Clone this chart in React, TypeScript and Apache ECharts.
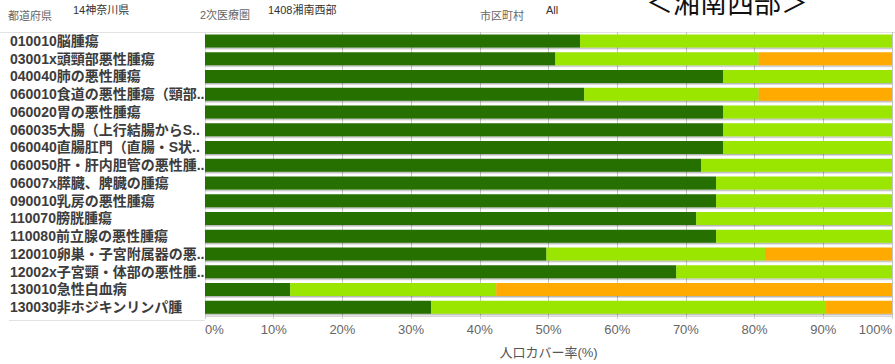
import React, { useEffect, useRef } from "react";
import * as echarts from "echarts";

// DPC disease categories (row labels, top to bottom)
const categories = [
  "010010脳腫瘍",
  "03001x頭頸部悪性腫瘍",
  "040040肺の悪性腫瘍",
  "060010食道の悪性腫瘍（頸部..",
  "060020胃の悪性腫瘍",
  "060035大腸（上行結腸からS..",
  "060040直腸肛門（直腸・S状..",
  "060050肝・肝内胆管の悪性腫..",
  "06007x膵臓、脾臓の腫瘍",
  "090010乳房の悪性腫瘍",
  "110070膀胱腫瘍",
  "110080前立腺の悪性腫瘍",
  "120010卵巣・子宮附属器の悪..",
  "12002x子宮頸・体部の悪性腫..",
  "130010急性白血病",
  "130030非ホジキンリンパ腫",
];

// Population coverage (%) by access band, stacked to 100
const coverNear = [54.6, 51.0, 75.4, 55.2, 75.4, 75.4, 75.4, 72.2, 74.4, 74.4, 71.5, 74.4, 49.7, 68.6, 12.4, 32.9];
const coverMid = [45.4, 29.6, 24.6, 25.4, 24.6, 24.6, 24.6, 27.8, 25.6, 25.6, 28.5, 25.6, 31.8, 31.4, 30.0, 57.5];
const coverFar = [0, 19.4, 0, 19.4, 0, 0, 0, 0, 0, 0, 0, 0, 18.5, 0, 57.6, 9.6];

const xTicks = [0, 10, 20, 30, 40, 50, 60, 70, 80, 90, 100];

const JP = '"Noto Sans CJK JP", "Noto Sans", sans-serif';
const MIXED = '"Liberation Sans", "Noto Sans CJK JP", sans-serif';
const LATIN = '"Liberation Sans", Arial, sans-serif';

export default function App() {
  const ref = useRef<HTMLDivElement>(null);

  useEffect(() => {
    if (!ref.current) return;
    const chart = echarts.init(ref.current, undefined, { renderer: "svg" });

    const barStyle = (color: string) => ({
      color,
      shadowColor: "rgba(0,0,0,0.28)",
      shadowBlur: 1,
      shadowOffsetY: 1.5,
    });

    chart.setOption({
      animation: false,
      backgroundColor: "#ffffff",
      grid: { left: 205, right: 0, top: 32, bottom: 44, containLabel: false },
      xAxis: {
        type: "value",
        min: xTicks[0],
        max: xTicks[xTicks.length - 1],
        interval: 10,
        name: "人口カバー率(%)",
        nameLocation: "middle",
        nameGap: 30,
        nameTextStyle: { fontFamily: MIXED, fontSize: 13, color: "#555" },
        axisLine: { show: true, lineStyle: { color: "#d6d6d6" } },
        axisTick: { show: true, length: 3, lineStyle: { color: "#cfcfcf" } },
        axisLabel: {
          formatter: "{value}%",
          fontFamily: LATIN,
          fontSize: 13,
          color: "#666",
          margin: 7,
          alignMinLabel: "left",
          alignMaxLabel: "right",
        },
        splitLine: { show: true, lineStyle: { color: "#c4c4c4", width: 1 } },
      },
      yAxis: {
        type: "category",
        data: categories,
        inverse: true,
        axisLine: { show: true, lineStyle: { color: "#dcdcdc" } },
        axisTick: { show: false },
        axisLabel: {
          interval: 0,
          hideOverlap: false,
          align: "left",
          margin: 195,
          fontFamily: MIXED,
          fontWeight: "bold",
          fontSize: 14,
          color: "#3c3c3c",
        },
      },
      series: [
        { name: "near", type: "bar", stack: "cov", data: coverNear, barWidth: 13, itemStyle: barStyle("#277000") },
        { name: "mid", type: "bar", stack: "cov", data: coverMid, barWidth: 13, itemStyle: barStyle("#9ae600") },
        { name: "far", type: "bar", stack: "cov", data: coverFar, barWidth: 13, itemStyle: barStyle("#ffaa00") },
      ],
      graphic: [
        { type: "line", shape: { x1: 0, y1: 32.5, x2: 895, y2: 32.5 }, style: { stroke: "#e2e2e2", lineWidth: 1 } },
        { type: "line", shape: { x1: 9, y1: 320.5, x2: 205, y2: 320.5 }, style: { stroke: "#e2e2e2", lineWidth: 1 } },
        { type: "text", x: 8, y: 15, style: { text: "都道府県", font: `11px ${JP}`, fill: "#666", verticalAlign: "middle" } },
        { type: "text", x: 73, y: 10, style: { text: "14神奈川県", font: `11px ${MIXED}`, fill: "#333", verticalAlign: "middle" } },
        { type: "text", x: 200, y: 15, style: { text: "2次医療圏", font: `11px ${MIXED}`, fill: "#666", verticalAlign: "middle" } },
        { type: "text", x: 268, y: 10, style: { text: "1408湘南西部", font: `11px ${MIXED}`, fill: "#333", verticalAlign: "middle" } },
        { type: "text", x: 480, y: 15, style: { text: "市区町村", font: `11px ${JP}`, fill: "#666", verticalAlign: "middle" } },
        { type: "text", x: 546, y: 10, style: { text: "All", font: `11px ${LATIN}`, fill: "#333", verticalAlign: "middle" } },
        { type: "text", x: 646, y: 1, style: { text: "＜湘南西部＞", font: `27px ${JP}`, fill: "#111", verticalAlign: "middle" } },
      ],
    });

    return () => chart.dispose();
  }, []);

  return (
    <div
      ref={ref}
      style={{ position: "fixed", left: 0, top: 0, width: 895, height: 364 }}
    />
  );
}
